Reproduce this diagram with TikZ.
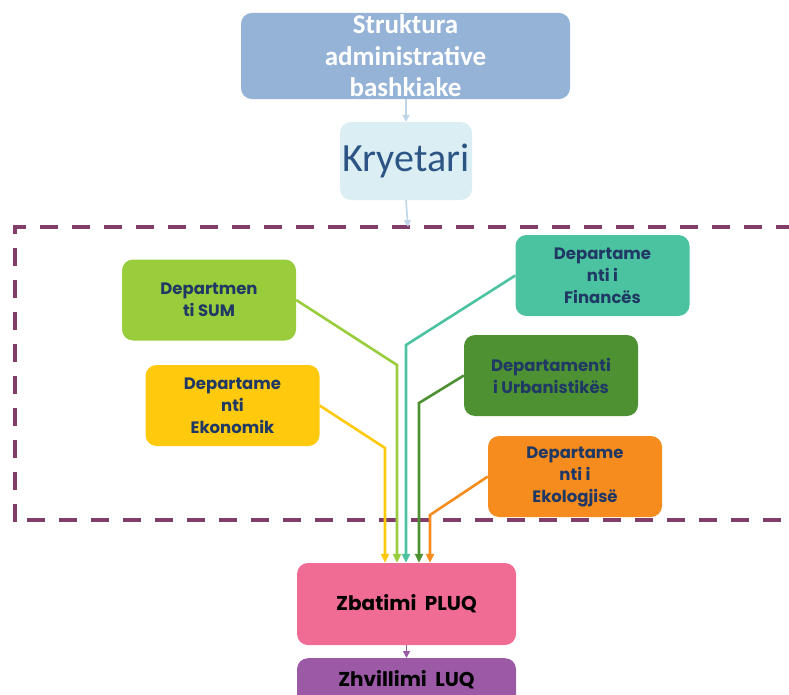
\documentclass[tikz,border=0pt]{standalone}
\usepackage{fontspec}
\setmainfont{Carlito}
\newfontfamily\deptfont{Poppins}
\usetikzlibrary{arrows.meta,positioning}

\begin{document}
\begin{tikzpicture}[
  x=1pt,y=-1pt,
  >={Triangle[length=9pt,width=8pt]},
  box/.style={fill=#1,rounded corners=11pt,align=center,inner sep=2pt},
  dept/.style={box=#1,minimum width=174pt,minimum height=81pt,
    font=\deptfont\bfseries\fontsize{16.5}{22}\selectfont,text=navy},
  link/.style={->,line width=2.6pt,#1},
  thin/.style={->,line width=1.6pt,#1,>={Triangle[length=7pt,width=7pt]}}]

  \definecolor{topc}{RGB}{149,179,215}
  \definecolor{kryc}{RGB}{218,238,243}
  \definecolor{kryt}{RGB}{44,85,133}
  \definecolor{navy}{RGB}{31,56,100}
  \definecolor{frame}{RGB}{128,62,104}
  \definecolor{sumc}{RGB}{154,205,60}
  \definecolor{ekoc}{RGB}{255,201,14}
  \definecolor{finc}{RGB}{75,195,160}
  \definecolor{urbc}{RGB}{77,145,50}
  \definecolor{ekgc}{RGB}{246,140,30}
  \definecolor{pluq}{RGB}{240,108,148}
  \definecolor{luq}{RGB}{155,89,166}

  \useasboundingbox (0,0) rectangle (789,695);

  % ---- top ----
  \node[box=topc,minimum width=329pt,minimum height=84pt,text=white,
    font=\bfseries\fontsize{27}{31.5}\selectfont] (struk) at (405.5,56)
    {Struktura\\administrative\\bashkiake};
  \node[box=kryc,minimum width=132pt,minimum height=78pt,text=kryt,
    inner sep=0pt,font=\fontsize{40}{46}\selectfont] (kry) at (406,161)
    {Kryetari};

  \draw[thin=kryc!60!topc] (struk.south -| kry.north) -- (kry.north);

  % ---- departments frame ----
  \draw[frame,line width=3.5pt,dash pattern=on 18pt off 14pt]
    (15,522) -- (15,227) -- (800,227);
  \draw[frame,line width=3.5pt,dash pattern=on 18pt off 14pt]
    (27,520) -- (800,520);
  \coordinate (top) at (408,227);
  \draw[thin=kryc!60!topc] (kry.south) -- (top);

  \node[dept=sumc] (sum) at (209,300) {Departmen\\ti SUM};
  \node[dept=ekoc] (eko) at (232.5,405.5) {Departame\\nti\\Ekonomik};
  \node[dept=finc] (fin) at (602.5,275.5) {Departame\\nti i\\Financës};
  \node[dept=urbc] (urb) at (551,375.5) {Departamenti\\i Urbanistikës};
  \node[dept=ekgc] (ekg) at (575,476.5) {Departame\\nti i\\Ekologjisë};

  % ---- bottom ----
  \node[box=pluq,minimum width=219pt,minimum height=82pt,
    font=\deptfont\bfseries\fontsize{20}{24}\selectfont] (plan) at (406.5,604)
    {Zbatimi~~PLUQ};
  \node[box=luq,minimum width=219pt,minimum height=52pt,anchor=north,
    font=\deptfont\bfseries\fontsize{20}{24}\selectfont,
    text depth=12pt] (zhv) at (406.5,658) {Zhvillimi~~LUQ};

  \coordinate (bsum) at (397,365);
  \coordinate (beko) at (385,448);
  \coordinate (bfin) at (406,345);
  \coordinate (burb) at (419,403);
  \coordinate (bekg) at (430,515);

  \draw[link=sumc] (sum.east) -- (bsum) -- (bsum |- plan.north);
  \draw[link=ekoc] (eko.east) -- (beko) -- (beko |- plan.north);
  \draw[link=finc] (fin.west) -- (bfin) -- (bfin |- plan.north);
  \draw[link=urbc] (urb.west) -- (burb) -- (burb |- plan.north);
  \draw[link=ekgc] (ekg.west) -- (bekg) -- (bekg |- plan.north);

  \draw[thin=luq] (plan.south -| zhv.north) -- (zhv.north);
\end{tikzpicture}
\end{document}
